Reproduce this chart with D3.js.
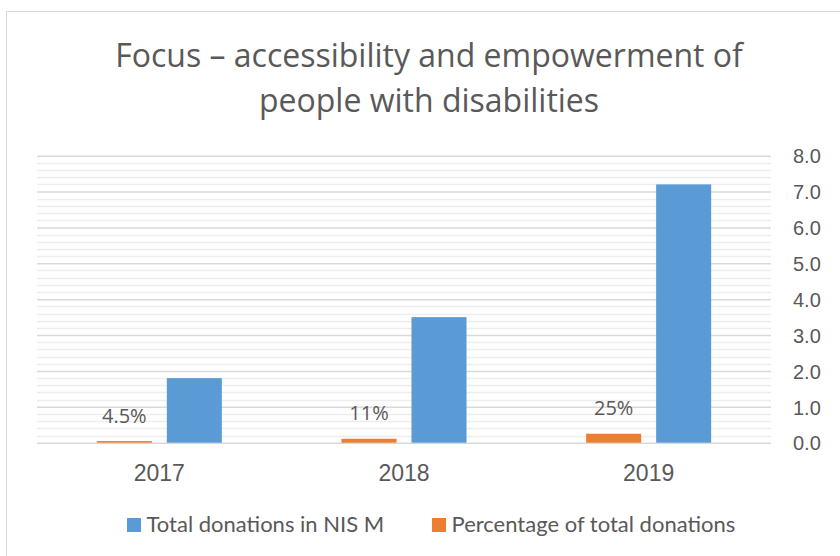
<!DOCTYPE html>
<meta charset="utf-8">
<style>
body { margin: 0; background: #fff; }
text { fill: #595959; }
.title { font-family: "Open Sans", Lato, sans-serif; font-size: 32px; }
.year { font-family: "Liberation Sans", Arial, sans-serif; font-size: 23px; }
.ytick { font-family: "Liberation Sans", Arial, sans-serif; font-size: 20px; }
.dlabel { font-family: "Open Sans", Lato, sans-serif; font-size: 20px; }
.legend { font-family: Lato, "Open Sans", sans-serif; font-size: 22px; }
</style>
<body>
<script src="https://d3js.org/d3.v7.min.js"></script>
<script>

var years = ["2017", "2018", "2019"];
var totalDonations = [1.8, 3.5, 7.2];     // NIS M
var pctOfTotal = [0.045, 0.11, 0.25];     // share of total donations
var yTicks = [0, 1, 2, 3, 4, 5, 6, 7, 8];
var seriesNames = ["Total donations in NIS M", "Percentage of total donations"];
var titleLines = ["Focus \u2013 accessibility and empowerment of", "people with disabilities"];

var width = 840, height = 556;
var plot = {left: 37, right: 771, top: 155.7, bottom: 442.7};

var blue = "#5b9bd5", orange = "#ed7d31";

var svg = d3.select("body").append("svg")
    .attr("width", width)
    .attr("height", height);

// chart frame (runs off the right/bottom edge like the screenshot)
svg.append("rect")
    .attr("x", 6.5).attr("y", 11.5)
    .attr("width", 846).attr("height", 560)
    .attr("fill", "#fff")
    .attr("stroke", "#d9d9d9");

// title
svg.selectAll(".title")
  .data(titleLines)
  .enter().append("text")
    .attr("class", "title")
    .attr("x", 429)
    .attr("y", function(d, i) { return 66.5 + i * 45; })
    .attr("text-anchor", "middle")
    .text(function(d) { return d; });

var y = d3.scaleLinear()
    .domain([0, 8])
    .range([plot.bottom, plot.top]);

var x0 = d3.scaleBand()
    .domain(years)
    .range([plot.left, plot.right])
    .paddingInner(0.489)
    .paddingOuter(0.2445);

var x1 = d3.scaleBand()
    .domain(["pct", "total"])
    .range([0, x0.bandwidth()])
    .paddingInner(0.214);

// minor grid every 0.2
var minor = d3.range(0, 8.01, 0.2).filter(function(v) { return Math.abs(v - Math.round(v)) > 0.01; });
svg.append("g")
  .selectAll("line")
  .data(minor)
  .enter().append("line")
    .attr("x1", plot.left).attr("x2", plot.right)
    .attr("y1", function(d) { return Math.round(y(d)) + 0.5; })
    .attr("y2", function(d) { return Math.round(y(d)) + 0.5; })
    .attr("stroke", "#ededed")
    .attr("stroke-width", 1.3);

// major grid + right axis
var yAxis = d3.axisRight(y)
    .tickValues(yTicks)
    .tickSize(plot.right - plot.left)
    .tickPadding(22)
    .tickFormat(d3.format(".1f"));

var ax = svg.append("g")
    .attr("transform", "translate(" + plot.left + ",0)")
    .call(yAxis);
ax.select(".domain").remove();
ax.selectAll(".tick line")
    .attr("stroke", "#d9d9d9")
    .attr("stroke-width", 1.5);
ax.selectAll(".tick text")
    .attr("class", "ytick")
    .attr("dy", "0.36em")
    .attr("fill", null);

// bars
var rows = years.map(function(yr, i) {
  return {year: yr, pct: pctOfTotal[i], total: totalDonations[i]};
});

var grp = svg.selectAll(".grp")
  .data(rows)
  .enter().append("g")
    .attr("class", "grp")
    .attr("transform", function(d) { return "translate(" + x0(d.year) + ",0)"; });

grp.append("rect")
    .attr("x", x1("pct"))
    .attr("width", x1.bandwidth())
    .attr("y", function(d) { return y(d.pct); })
    .attr("height", function(d) { return y(0) - y(d.pct); })
    .attr("fill", orange);

grp.append("rect")
    .attr("x", x1("total"))
    .attr("width", x1.bandwidth())
    .attr("y", function(d) { return y(d.total); })
    .attr("height", function(d) { return y(0) - y(d.total); })
    .attr("fill", blue);

grp.append("text")
    .attr("class", "dlabel")
    .attr("x", x1("pct") + x1.bandwidth() / 2)
    .attr("y", function(d) { return y(d.pct) - 18.5; })
    .attr("text-anchor", "middle")
    .text(function(d) { return d3.format(".2~%")(d.pct); });

// category labels
svg.selectAll(".year")
  .data(years)
  .enter().append("text")
    .attr("class", "year")
    .attr("x", function(d) { return x0(d) + x0.bandwidth() / 2; })
    .attr("y", 480.5)
    .attr("text-anchor", "middle")
    .text(function(d) { return d; });

// legend
var legendItems = [
  {name: seriesNames[0], color: blue, x: 127},
  {name: seriesNames[1], color: orange, x: 432}
];
var lg = svg.selectAll(".lg")
  .data(legendItems)
  .enter().append("g")
    .attr("class", "lg")
    .attr("transform", function(d) { return "translate(" + d.x + ",518)"; });
lg.append("rect")
    .attr("width", 14).attr("height", 14)
    .attr("fill", function(d) { return d.color; });
lg.append("text")
    .attr("class", "legend")
    .attr("x", 19.5)
    .attr("y", 14)
    .text(function(d) { return d.name; });

</script>
</body>
